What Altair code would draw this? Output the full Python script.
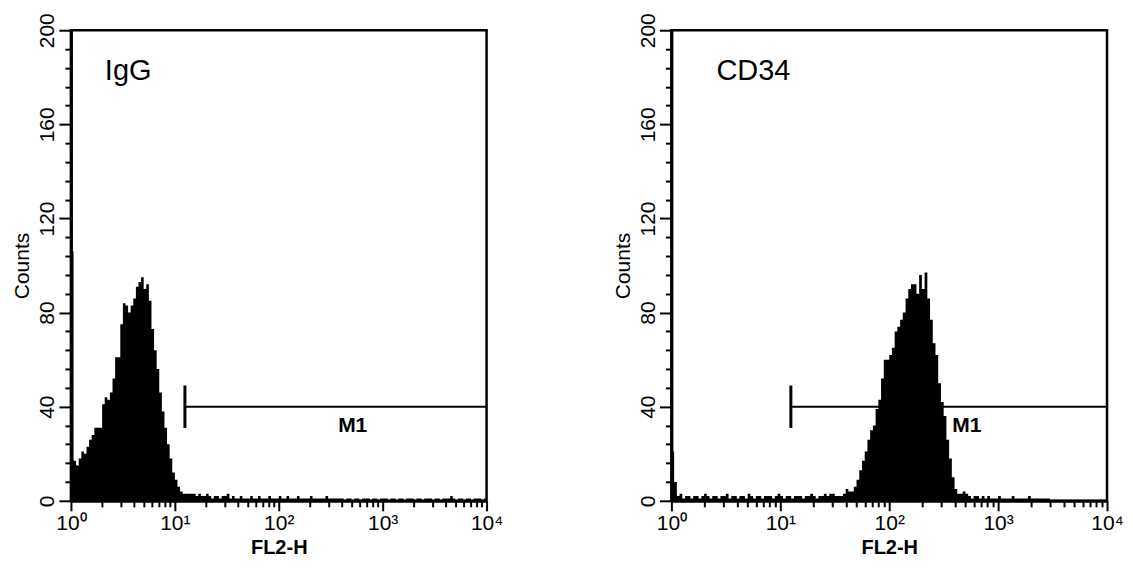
import altair as alt
import pandas as pd

# ---------------- data ----------------
CHANNELS_PER_DECADE = 40   # 160 log-spaced channels over 4 decades

igg_counts = (
    [106, 17, 15, 18, 21, 20, 23, 26, 28, 31, 31, 31, 41, 44, 43, 46, 52, 61, 61, 75,
     84, 83, 80, 83, 86, 91, 93, 95, 90, 92, 85, 73, 64, 56, 46, 38, 31, 24, 18, 12,
     9, 6, 4, 3, 3, 3, 3]
    + [3, 2, 3, 2, 2, 3, 2, 1, 2, 2, 1, 2, 2, 3, 1, 2, 1, 1, 2, 1, 1]
    + [1, 2, 1, 1, 2, 1, 1, 1, 2, 1, 1, 1, 2, 1, 1, 2, 1, 1, 1, 2, 1, 1, 1, 1, 2, 1,
       1, 1, 1, 1, 2, 1, 1, 1, 1, 1]
    + [1, 0, 1, 1, 0, 1, 1, 0, 1, 1, 1, 0, 1, 1, 0, 1, 1, 1, 0, 1, 1, 0, 1, 1, 0, 1,
       1, 1, 0, 1, 1, 0, 1, 1, 1, 0, 1, 1, 0, 1, 1, 1, 2, 1, 0, 1, 1, 0, 1, 1, 0, 1,
       1, 1, 0, 1]
)

cd34_counts = (
    [21, 8]
    + [2, 3, 1, 2, 2, 1, 2, 2, 1, 2, 3, 2, 1, 2, 2, 1, 2, 2, 3, 1, 2, 2, 1, 2, 2, 1,
       3, 2, 1, 2, 2, 1, 2, 2, 2, 1, 2, 3, 2, 1, 2, 2, 1, 2, 2, 2, 1, 2, 2, 3, 2, 1,
       2, 2, 3, 2]
    + [3, 3, 2, 2, 2, 3, 5, 4, 4, 6, 9, 13, 17, 21, 26, 30, 32, 39, 43, 52, 60, 60,
       62, 65, 72, 74, 77, 80, 86, 90, 92, 92, 88, 96, 90, 97, 86, 77, 67, 62, 50, 42,
       36, 26, 18, 10, 5, 3]
    + [3, 4, 3, 2, 1, 2, 2, 1, 2, 1, 2, 1, 1, 1, 2, 1, 1, 1, 1, 2, 1, 1, 1, 1, 1, 2,
       1, 1, 1, 1, 1, 1, 1]
    + [0, 0, 0, 0, 0, 0, 0, 0, 0, 0, 0, 0, 0, 0, 0, 0, 0, 0, 0, 0, 0]
)

panel_titles = ["IgG", "CD34"]
title_x = [2.12, 2.59]          # FL2-H value at left edge of the panel title
title_y = 179                   # counts (baseline of panel title)

decades = [1, 10, 100, 1000, 10000]
decade_labels = ["10⁰", "10¹", "10²", "10³", "10⁴"]
minor_multipliers = [2, 3, 4, 5, 6, 7, 8, 9]
y_major_ticks = [0, 40, 80, 120, 160, 200]
y_minor_ticks = [v for v in range(0, 201, 8) if v % 40 != 0]

gate_start = 12.5
gate_end = 10000
gate_level = 40
gate_bar = [31, 49]
gate_name = "M1"
gate_label_x = 515
gate_label_y = 32

x_title = "FL2-H"
y_title = "Counts"
FONT = "Liberation Sans"

# ---------------- helpers ----------------
x_minor_ticks = [m * d for d in decades[:-1] for m in minor_multipliers]
label_expr = "''"
for d, lab in reversed(list(zip(decades, decade_labels))):
    label_expr = f"datum.value == {d} ? '{lab}' : ({label_expr})"

x_scale = alt.Scale(type="log", domain=[decades[0], decades[-1]], nice=False)
y_scale = alt.Scale(domain=[0, 200], nice=False)

x_major_axis = alt.Axis(orient="bottom", values=decades, labelExpr=label_expr, tickSize=10,
                        labelPadding=2, titlePadding=4, titleFontSize=20,
                        titleFontWeight="bold", labelFontSize=21)
x_minor_axis = alt.Axis(orient="bottom", values=x_minor_ticks, tickSize=6, labels=False,
                        domain=False, title="")
y_major_axis = alt.Axis(orient="left", values=y_major_ticks, tickSize=12, labelAngle=270,
                        labelAlign="center", labelBaseline="bottom", labelPadding=1,
                        titlePadding=4, titleFontSize=21, titleFontWeight="normal",
                        labelFontSize=21)
y_minor_axis = alt.Axis(orient="left", values=y_minor_ticks, tickSize=6, labels=False,
                        domain=False, title="")
hidden_x = alt.Axis(orient="bottom", labels=False, ticks=False, domain=False, title="")
hidden_y = alt.Axis(orient="left", labels=False, ticks=False, domain=False, title="")


def panel(counts, name, tx, width):
    n = len(counts)
    df = pd.DataFrame({"channel": list(range(n)) + [n], "count": counts + [counts[-1]]})
    base = alt.Chart(df).transform_calculate(fl2h=f"pow(10, datum.channel / {CHANNELS_PER_DECADE})")
    hist = base.mark_area(interpolate="step-after", color="black").encode(
        x=alt.X("fl2h:Q", scale=x_scale, axis=x_major_axis, title=x_title),
        y=alt.Y("count:Q", scale=y_scale, axis=y_major_axis, title=y_title),
    )
    minor = base.mark_point(opacity=0).encode(
        x=alt.X("fl2h:Q", scale=x_scale, axis=x_minor_axis),
        y=alt.Y("count:Q", scale=y_scale, axis=y_minor_axis),
    )
    gdf = pd.DataFrame({"x": [gate_start], "x2": [gate_end], "y": [gate_level],
                        "ylo": [gate_bar[0]], "yhi": [gate_bar[1]],
                        "lx": [gate_label_x], "ly": [gate_label_y], "lab": [gate_name]})
    X = lambda f: alt.X(f, scale=x_scale, axis=hidden_x)
    Y = lambda f: alt.Y(f, scale=y_scale, axis=hidden_y)
    gate_h = alt.Chart(gdf).mark_rule(color="black", strokeWidth=2).encode(
        x=X("x:Q"), x2="x2:Q", y=Y("y:Q"))
    gate_v = alt.Chart(gdf).mark_rule(color="black", strokeWidth=3).encode(
        x=X("x:Q"), y=Y("ylo:Q"), y2="yhi:Q")
    gate_t = alt.Chart(gdf).mark_text(font=FONT, fontSize=21, fontWeight="bold",
                                      align="center", baseline="middle", color="black").encode(
        x=X("lx:Q"), y=Y("ly:Q"), text="lab:N")
    tdf = pd.DataFrame({"x": [tx], "y": [title_y], "t": [name]})
    title = alt.Chart(tdf).mark_text(font=FONT, fontSize=29, align="left",
                                     baseline="alphabetic", color="black").encode(
        x=X("x:Q"), y=Y("y:Q"), text="t:N")
    return (
        alt.layer(hist, minor, gate_h, gate_v, gate_t, title)
        .resolve_axis(x="independent", y="independent")
        .properties(width=width, height=471)
    )


left = panel(igg_counts, panel_titles[0], title_x[0], 416)
right = panel(cd34_counts, panel_titles[1], title_x[1], 436)

chart = (
    alt.hconcat(left, right, spacing=106)
    .properties(padding={"left": 2, "top": 3, "right": 0, "bottom": 0}, background="white")
    .configure_view(stroke="black", strokeWidth=2.5)
    .configure_axis(
        labelFont=FONT, titleFont=FONT, labelFontSize=21, labelColor="black",
        titleColor="black", tickColor="black", domainColor="black", tickWidth=2,
        grid=False, labelOverlap=False, labelFlush=False,
    )
    .configure_axisX(domainWidth=3)
    .configure_axisY(domainWidth=3)
)

chart.save("out.html", embed_options={"renderer": "svg", "actions": False})
